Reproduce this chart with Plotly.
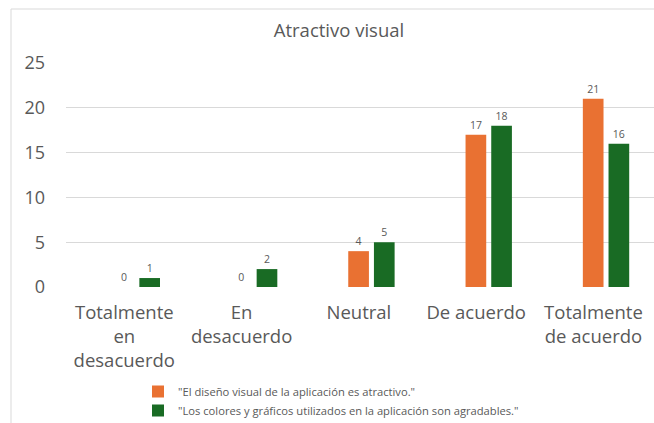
import plotly.graph_objects as go

# Survey responses on the visual appeal of the app
categories = [
    "Totalmente<br>en<br>desacuerdo",
    "En<br>desacuerdo",
    "Neutral",
    "De acuerdo",
    "Totalmente<br>de acuerdo",
]
series_names = [
    '"El diseño visual de la aplicación es atractivo."',
    '"Los colores y gráficos utilizados en la aplicación son agradables."',
]
diseno_atractivo = [0, 0, 4, 17, 21]
colores_agradables = [1, 2, 5, 18, 16]
series_colors = ["#E97132", "#196B24"]
y_ticks = [0, 5, 10, 15, 20, 25]

FONT = "Open Sans"
GREY = "#595959"

W, H = 654, 423
m_l, m_r, m_t, m_b = 66, 0, 63, 136
plot_w = W - m_l - m_r
plot_h = H - m_t - m_b

# category axis window for the bars; labels sit slightly left of the bar groups
x_range = [-0.604, 4.409]
label_shift = 0.107

fig = go.Figure()
for name, vals, col in zip(series_names, [diseno_atractivo, colores_agradables], series_colors):
    fig.add_trace(go.Bar(
        x=categories, y=vals, name=name,
        marker=dict(color=col, line=dict(width=0)),
        text=[str(v) for v in vals], textposition="outside",
        textfont=dict(family=FONT, size=10.5, color=GREY),
        cliponaxis=False,
    ))

# carrier for the category labels on the overlaid axis
fig.add_trace(go.Scatter(x=categories, y=[None] * len(categories), xaxis="x2",
                         showlegend=False, hoverinfo="skip", mode="markers"))


def py(px):
    """pixel row -> paper y"""
    return (H - m_b - px) / plot_h


fig.update_layout(
    width=W, height=H,
    margin=dict(l=m_l, r=m_r, t=m_t, b=m_b, pad=0, autoexpand=False),
    paper_bgcolor="white", plot_bgcolor="white",
    font=dict(family=FONT, color=GREY),
    barmode="group", bargap=0.562, bargroupgap=0.195,
    title=dict(text="Atractivo visual", x=339 / W, xanchor="center",
               y=1 - 31 / H, yanchor="middle", yref="container",
               font=dict(family=FONT, size=18.5, color=GREY)),
    xaxis=dict(range=x_range, showgrid=False, showline=False,
               zeroline=False, ticks="", showticklabels=False),
    xaxis2=dict(overlaying="x", anchor="y", side="bottom", type="category",
                categoryorder="array", categoryarray=categories,
                range=[x_range[0] + label_shift, x_range[1] + label_shift],
                showgrid=False, showline=False, zeroline=False, ticks="",
                tickfont=dict(family=FONT, size=18.5, color=GREY),
                ticklabelstandoff=12, automargin=False),
    yaxis=dict(range=[0, 25], tickvals=y_ticks, showgrid=True,
               gridcolor="#D9D9D9", gridwidth=1, zeroline=False,
               showline=False, ticks="", tickfont=dict(family=FONT, size=18, color=GREY),
               ticklabelstandoff=20, automargin=False),
    legend=dict(orientation="v", x=(138 - m_l) / plot_w, xanchor="left",
                y=py(377), yanchor="top", font=dict(family=FONT, size=11.2, color=GREY),
                itemwidth=30, bgcolor="rgba(0,0,0,0)"),
    shapes=[dict(type="rect", xref="paper", yref="paper",
                 x0=(11 - m_l) / plot_w, x1=1.1,
                 y0=py(H + 10), y1=py(9),
                 line=dict(color="#D9D9D9", width=1), fillcolor="rgba(0,0,0,0)",
                 layer="below")],
)

fig.write_html("out.html")
